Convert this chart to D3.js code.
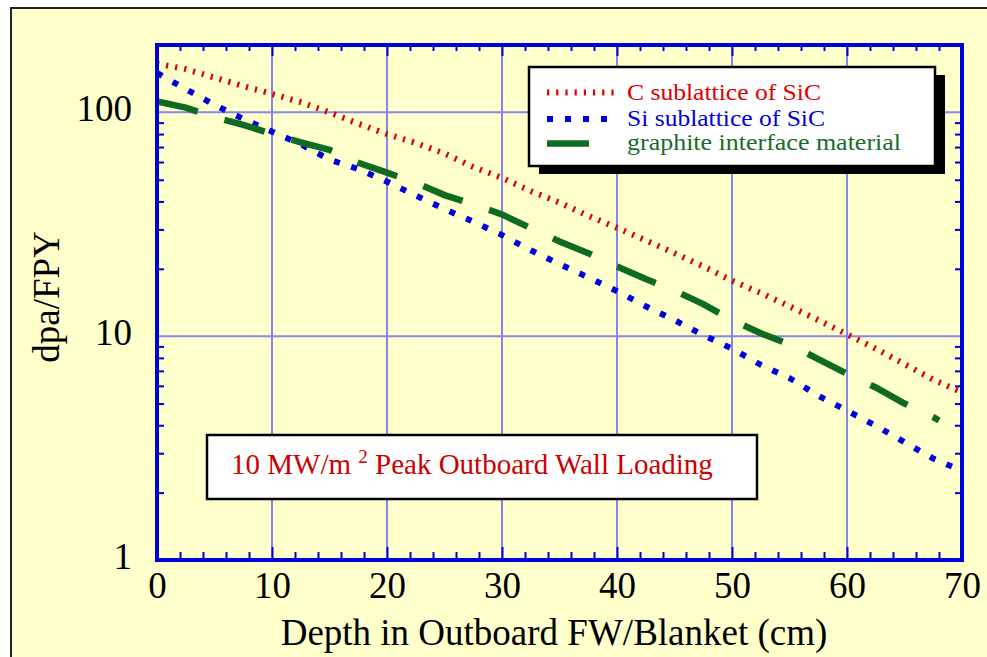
<!DOCTYPE html>
<html>
<head>
<meta charset="utf-8">
<script src="https://cdn.jsdelivr.net/npm/d3@7"></script>
<style>
  html, body { margin: 0; padding: 0; background: #ffffff; }
  svg { display: block; }
  text { font-family: "Liberation Serif", "Times New Roman", serif; }
</style>
</head>
<body>
<svg id="chart" width="987" height="657"></svg>
<script>
// ---------------- data ----------------
const depth = [0, 2.5, 5, 7.5, 10, 12.5, 15, 17.5, 20, 22.5, 25, 27.5, 30, 32.5, 35,
               37.5, 40, 42.5, 45, 47.5, 50, 52.5, 55, 57.5, 60, 62.5, 65, 67.5, 70];
const cSublattice = [165, 156, 143, 131, 121, 111, 100, 89, 80, 73, 65.5, 57, 51, 44.5, 39.5,
                     34.5, 30.5, 26.8, 23.5, 20.5, 17.7, 15.6, 13.6, 11.8, 10.2, 8.8, 7.5, 6.4, 5.6];
const siSublattice = [150, 127, 108, 93.5, 82, 72, 61.5, 55.8, 49, 42.5, 37, 32.5, 28.3, 24.2, 21,
                      18.3, 15.9, 13.6, 11.8, 10.1, 8.8, 7.45, 6.5, 5.42, 4.65, 3.98, 3.36, 2.84, 2.5];
const graphiteDepth = [0, 2.5, 5, 7.5, 10, 12.5, 15, 17.5, 20, 22.5, 25, 27.5, 30, 32.5, 35,
                       37.5, 40, 42.5, 45, 47.5, 50, 52.5, 55, 57.5, 60, 62.5, 65, 67.5, 68];
const graphite = [112, 105, 95, 88, 80, 73.5, 68, 59.5, 53.8, 48.5, 42.7, 38.8, 35, 30.4, 26.5,
                  23.5, 20.5, 18, 16, 13.9, 11.8, 10.3, 9.2, 7.9, 6.8, 5.9, 5.0, 4.35, 4.2];

const seriesNames = ["C sublattice of SiC", "Si sublattice of SiC", "graphite interface material"];
const xMajorTicks = [0, 10, 20, 30, 40, 50, 60, 70];
const xMinorTicks = [2, 4, 6, 8, 12, 14, 16, 18, 22, 24, 26, 28, 32, 34, 36, 38, 42, 44, 46, 48,
                     52, 54, 56, 58, 62, 64, 66, 68];
const xGrid = [10, 20, 30, 40, 50, 60];
const yMajorTicks = [1, 10, 100];
const yMinorTicks = [2, 3, 4, 5, 6, 7, 8, 9, 20, 30, 40, 50, 60, 70, 80, 90];
const yGrid = [10, 100];
const xTitle = "Depth in Outboard FW/Blanket (cm)";
const yTitle = "dpa/FPY";

// ---------------- layout ----------------
const L = 157, R = 962, T = 45, B = 560;
const svg = d3.select("#chart");
const x = d3.scaleLinear().domain([0, 70]).range([L, R]);
const y = d3.scaleLog().domain([1, 200]).range([B, T]);

const BLUE = "#0000dd", RED = "#dd0000", GREEN = "#0f6a22", GRID = "#8585f0";

// outer frame
svg.append("rect").attr("x", 11).attr("y", 8).attr("width", 1000).attr("height", 700)
  .attr("fill", "#ffffcc").attr("stroke", "#222").attr("stroke-width", 2);

// gridlines
svg.append("g").selectAll("line").data(xGrid).join("line")
  .attr("x1", d => x(d)).attr("x2", d => x(d)).attr("y1", T).attr("y2", B)
  .attr("stroke", GRID).attr("stroke-width", 2);
svg.append("g").selectAll("line").data(yGrid).join("line")
  .attr("x1", L).attr("x2", R).attr("y1", d => y(d)).attr("y2", d => y(d))
  .attr("stroke", GRID).attr("stroke-width", 2);

// axes
function styleAxis(g) {
  g.select(".domain").remove();
  g.selectAll(".tick line").attr("stroke", BLUE).attr("stroke-width", 2);
  g.selectAll(".tick text").attr("fill", "#000").style("font-family", "Liberation Serif")
    .style("font-size", "37px");
}
svg.append("g").attr("transform", `translate(0,${B})`)
  .call(d3.axisBottom(x).tickValues(xMajorTicks).tickSize(-13).tickFormat(d3.format("d")))
  .call(styleAxis)
  .call(g => g.selectAll(".tick text").attr("dy", null).attr("y", 38));
svg.append("g").attr("transform", `translate(0,${B})`)
  .call(d3.axisBottom(x).tickValues(xMinorTicks).tickSize(-8).tickFormat(""))
  .call(styleAxis);
svg.append("g").attr("transform", `translate(0,${T})`)
  .call(d3.axisTop(x).tickValues(xMinorTicks).tickSize(-6).tickFormat(""))
  .call(styleAxis);
svg.append("g").attr("transform", `translate(0,${T})`)
  .call(d3.axisTop(x).tickValues(xGrid).tickSize(-11).tickFormat(""))
  .call(styleAxis);
svg.append("g").attr("transform", `translate(${L},0)`)
  .call(d3.axisLeft(y).tickValues(yMajorTicks).tickSize(0).tickFormat(d3.format("d")))
  .call(styleAxis)
  .call(g => g.selectAll(".tick text").attr("dy", null).attr("x", -25).attr("y", 8));
svg.append("g").attr("transform", `translate(${L},0)`)
  .call(d3.axisLeft(y).tickValues(yMinorTicks).tickSize(-7).tickFormat(""))
  .call(styleAxis);
svg.append("g").attr("transform", `translate(${R},0)`)
  .call(d3.axisRight(y).tickValues(yMinorTicks).tickSize(-7).tickFormat(""))
  .call(styleAxis);

// axis titles
svg.append("text").attr("x", 554).attr("y", 645).attr("text-anchor", "middle")
  .style("font-size", "37px").attr("fill", "#000").text(xTitle);
svg.append("text").attr("transform", "translate(59,297) rotate(-90)").attr("text-anchor", "middle")
  .style("font-size", "37px").attr("fill", "#000").text(yTitle);

// data lines
svg.append("clipPath").attr("id", "plotclip").append("rect")
  .attr("x", L).attr("y", T).attr("width", R - L).attr("height", B - T);
const plot = svg.append("g").attr("clip-path", "url(#plotclip)");
const line = d3.line().x(d => x(d[0])).y(d => y(d[1]));
const styles = [
  { color: RED, width: 6, dash: "2.2,7" },
  { color: BLUE, width: 6, dash: "6,12" },
  { color: GREEN, width: 6.5, dash: "42,28" }
];
const seriesData = [
  d3.zip(depth, cSublattice),
  d3.zip(depth, siSublattice),
  d3.zip(graphiteDepth, graphite)
];
seriesData.forEach((pts, i) => {
  plot.append("path").datum(pts).attr("d", line)
    .attr("fill", "none").attr("stroke", styles[i].color)
    .attr("stroke-width", styles[i].width).attr("stroke-dasharray", styles[i].dash);
});

// plot frame
svg.append("rect").attr("x", L).attr("y", T).attr("width", R - L).attr("height", B - T)
  .attr("fill", "none").attr("stroke", BLUE).attr("stroke-width", 4);

// legend
const lg = svg.append("g");
lg.append("rect").attr("x", 539).attr("y", 75).attr("width", 406).attr("height", 99).attr("fill", "#000");
lg.append("rect").attr("x", 529).attr("y", 67).attr("width", 406).attr("height", 99)
  .attr("fill", "#fff").attr("stroke", "#000").attr("stroke-width", 2.5);
const legRows = [92.5, 119, 143.5];
const legBase = [99.5, 125.5, 150];
const legWidth = [194, 198, 274];
const legText = [RED, BLUE, "#1a6b2a"];
seriesNames.forEach((name, i) => {
  lg.append("line").attr("x1", 547).attr("x2", 617).attr("y1", legRows[i]).attr("y2", legRows[i])
    .attr("stroke", styles[i].color).attr("stroke-width", styles[i].width)
    .attr("stroke-dasharray", styles[i].dash);
  lg.append("text").attr("x", 627).attr("y", legBase[i]).style("font-size", "24px")
    .attr("textLength", legWidth[i]).attr("lengthAdjust", "spacingAndGlyphs")
    .attr("fill", legText[i]).text(name);
});

// annotation
const an = svg.append("g");
an.append("rect").attr("x", 207).attr("y", 435).attr("width", 550).attr("height", 64)
  .attr("fill", "#fff").attr("stroke", "#000").attr("stroke-width", 2.5);
const at = an.append("text").attr("x", 231).attr("y", 474).style("font-size", "29px").attr("fill", "#cc0000");
at.append("tspan").text("10 MW/m ");
at.append("tspan").attr("dy", -11).style("font-size", "19px").text("2");
at.append("tspan").attr("dy", 11).text(" Peak Outboard Wall Loading");
</script>
</body>
</html>
